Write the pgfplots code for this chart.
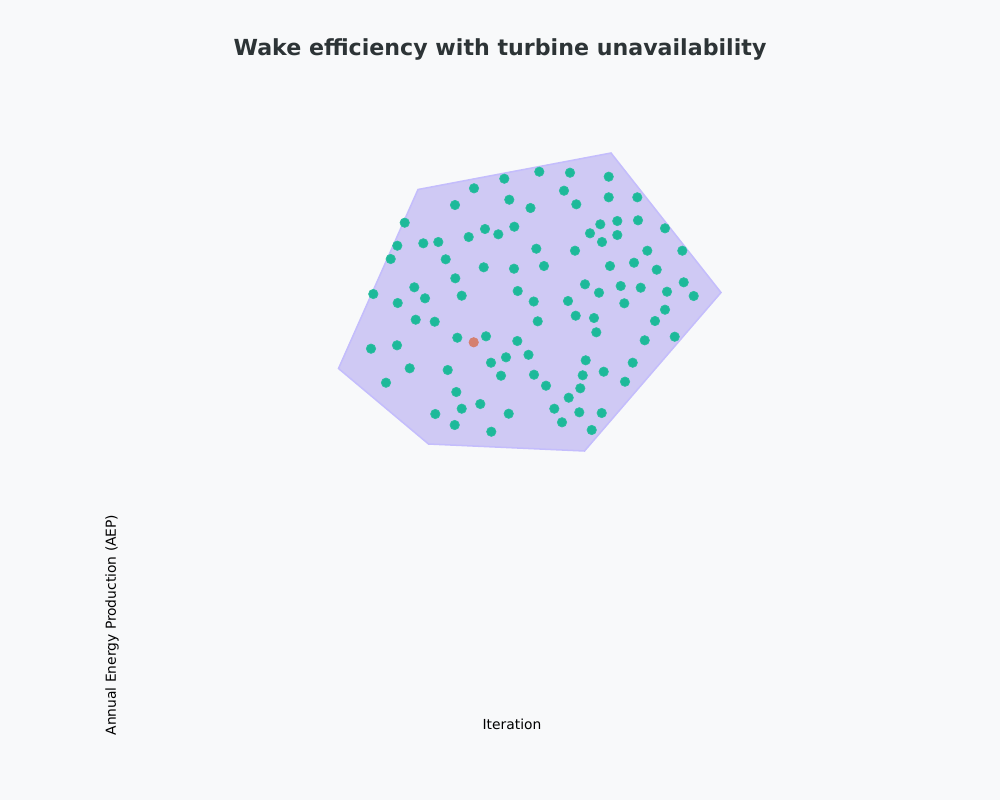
\documentclass[border=0pt]{standalone}
\usepackage{fontspec}
\setmainfont{DejaVu Sans}
\usepackage{pgfplots}
\pgfplotsset{compat=1.18}
\definecolor{bgcol}{RGB}{248,249,250}
\definecolor{titlecol}{RGB}{45,52,54}
\definecolor{polyfill}{RGB}{207,201,244}
\definecolor{polyedge}{RGB}{196,189,252}
\definecolor{turb}{RGB}{29,185,154}
\definecolor{turbedge}{RGB}{45,190,160}
\definecolor{downturb}{RGB}{213,128,112}
\begin{document}
\begin{tikzpicture}
\fill[bgcol] (0,0) rectangle (10in,8in);
% layout axis (coordinates in figure pixels, y downward)
\begin{axis}[at={(0,0)}, anchor=south west, width=10in, height=8in, scale only axis,
  xmin=0, xmax=1000, ymin=0, ymax=800, y dir=reverse, hide axis, clip=false]
\addplot[fill=polyfill, draw=polyedge, line width=1.1pt] coordinates {
(418,189.5) (611,153) (721,292.5) (584.5,451) (428.5,444) (338.5,368.5)} -- cycle;
\addplot[only marks, mark=*, mark size=3.4pt, mark options={fill=turb, draw=turbedge, line width=0.5pt}] coordinates {
(504.3,178.7) (474,188.3) (455,205) (509.3,199.7) (530.5,208) (404.7,222.7)
(514.3,226.7) (485,229) (498.3,234.3) (468.7,237) (397.3,245.7) (423.3,243.3)
(438.3,242) (390.7,259) (445.7,259.3) (483.7,267.3) (514,268.7) (455.3,278.3)
(414.3,287.3) (373.3,294) (461.7,295.7) (517.7,291) (397.7,303) (425,298.3)
(539.3,171.7) (570,172.7) (608.7,176.7) (564,190.7) (608.7,197.3) (637.3,197.3)
(576.3,204.3) (600.3,224.3) (617.3,221) (638,220.3) (590,233.3) (617.3,235)
(602,242) (665,228.3) (536.3,248.7) (575,250.7) (647.3,250.7) (682.3,250.7)
(544,266) (610,266) (634,262.7) (656.7,269.7) (585,284.3) (599,292.7)
(620.7,286) (640.7,287.7) (667,291.7) (683.7,282.3) (693.7,296) (533.7,301.5)
(568,301) (624.3,303.3)
(415.7,319.7) (434.7,321.7) (457.3,337.7) (486,336.3) (517.3,341) (371,348.7)
(397,345.3) (491,362.7) (506,357.3) (528.5,354.8) (409.7,368.3) (447.7,370)
(501,375.7) (386,382.7) (456.3,392) (480.3,404) (461.7,408.7) (508.7,413.7)
(435.3,414) (454.7,425) (491.3,431.7)
(537.7,321.3) (575.7,315.7) (594,318) (596.3,332.3) (665,309.7) (655,321)
(644.7,340.3) (674.7,336.7) (585.7,360.3) (632.7,362.7) (603.7,371.7) (534,374.7)
(582.7,375.3) (625,381.7) (546,385.7) (580.3,388.3) (568.7,397.7) (554.3,408.7)
(579.3,412.3) (601.7,413) (562,422.3) (591.7,430)
};
\addplot[only marks, mark=*, mark size=3.4pt, mark options={fill=downturb, draw=downturb, line width=0.5pt}] coordinates {(473.7,342.3)};
\end{axis}
% empty AEP axis
\begin{axis}[at={(1.25in,0.76in)}, anchor=south west, width=7.74in, height=1.98in, scale only axis,
  xmin=0, xmax=1, ymin=0, ymax=1, axis line style={draw=none}, ticks=none,
  xlabel={Iteration}, ylabel={Annual Energy Production (AEP)},
  label style={font=\fontsize{10}{12}\selectfont},
  xlabel style={at={(axis description cs:0.5,0)}, anchor=center},
  ylabel style={at={(axis description cs:-0.0168,0.5)}, anchor=center}]
\end{axis}
\node[font=\bfseries\fontsize{16}{19}\selectfont, text=titlecol] at (5in,7.51in) {Wake efficiency with turbine unavailability};
\end{tikzpicture}
\end{document}
